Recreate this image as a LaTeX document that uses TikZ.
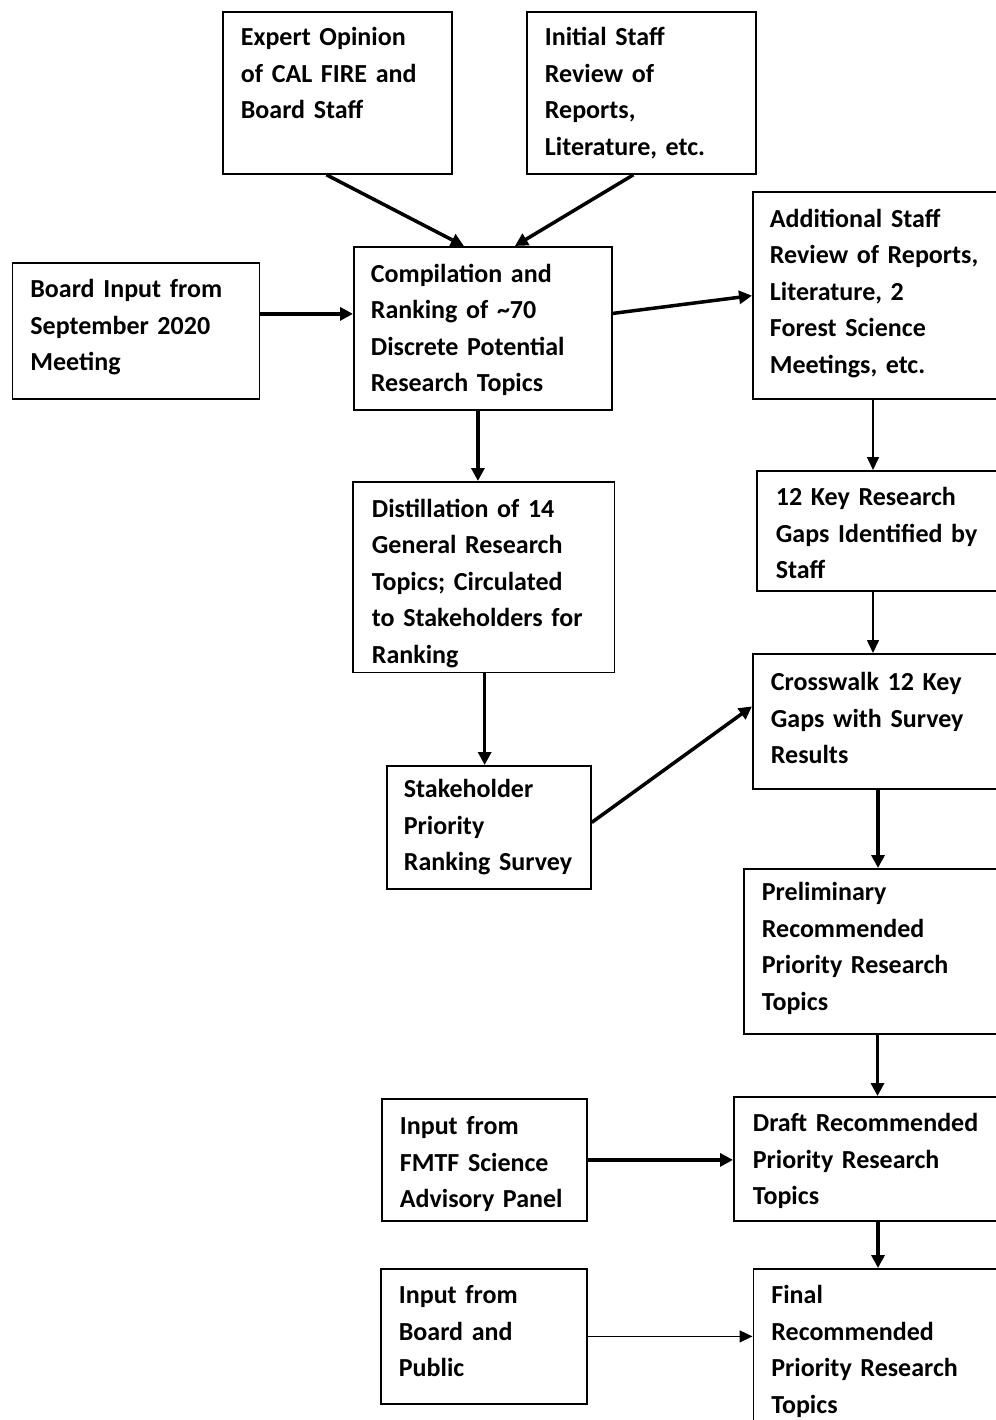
\documentclass[tikz,border=0pt]{standalone}
\usepackage{fontspec}
\setmainfont{Carlito}
\usetikzlibrary{arrows.meta}
\tikzstyle{stepbox} = [rectangle, draw=black, line width=1.8pt, anchor=north west, align=left, inner xsep=18pt, inner ysep=0pt, font=\fontsize{26}{36.5}\selectfont\bfseries]
\tikzstyle{arrow} = [line width=3.5pt, -{Triangle[length=13pt, width=13pt]}]
\tikzstyle{thinarrow} = [line width=1.5pt, -{Triangle[length=13pt, width=12pt]}]

\begin{document}
\begin{tikzpicture}[x=1pt, y=-1pt]
	\useasboundingbox (0,0) rectangle (995,1420);
	\node (expert) [stepbox, text width=193pt, text height=34pt, text depth=128pt] at (222,11) {Expert Opinion\\of CAL FIRE and\\Board Staff};
	\node (initial) [stepbox, text width=193pt, text height=34pt, text depth=128pt] at (526,11) {Initial Staff\\Review of\\Reports,\\Literature, etc.};
	\node (board) [stepbox, text width=211pt, text height=35pt, text depth=101pt] at (11.5,262) {Board Input from\\September 2020\\Meeting};
	\node (compile) [stepbox, inner xsep=17pt, text width=224pt, text height=35.5pt, text depth=127.5pt] at (353,246) {Compilation and\\Ranking of \textasciitilde70\\Discrete Potential\\Research Topics};
	\node (additional) [stepbox, inner xsep=17pt, text width=226pt, text height=35pt, text depth=171.5pt] at (752,191.5) {Additional Staff\\Review of Reports,\\Literature, 2\\Forest Science\\Meetings, etc.};
	\node (distill) [stepbox, inner xsep=19pt, text width=223.5pt, text height=35.5pt, text depth=155pt] at (352,481) {Distillation of 14\\General Research\\Topics; Circulated\\to Stakeholders for\\Ranking};
	\node (gaps) [stepbox, inner xsep=19pt, text width=222pt, text height=35pt, text depth=85pt] at (756,470) {12 Key Research\\Gaps Identified by\\Staff};
	\node (crosswalk) [stepbox, text width=224pt, text height=37pt, text depth=98pt] at (752,653) {Crosswalk 12 Key\\Gaps with Survey\\Results};
	\node (survey) [stepbox, inner xsep=17pt, text width=170pt, text height=32pt, text depth=91pt] at (386,765) {Stakeholder\\Priority\\Ranking~Survey};
	\node (prelim) [stepbox, text width=234pt, text height=32pt, text depth=133pt] at (743,868) {Preliminary\\Recommended\\Priority Research\\Topics};
	\node (panel) [stepbox, text width=169pt, text height=36pt, text depth=86pt] at (381,1098) {Input from\\FMTF Science\\Advisory~Panel};
	\node (draft) [stepbox, inner xsep=19pt, text width=242pt, text height=35pt, text depth=89pt] at (733,1096) {Draft~Recommended\\Priority Research\\Topics};
	\node (public) [stepbox, text width=170pt, text height=35pt, text depth=100pt] at (380,1268) {Input from\\Board and\\Public};
	\node (final) [stepbox, text width=224pt, text height=35pt, text depth=135pt] at (752.5,1268) {Final\\Recommended\\Priority Research\\Topics};
	% inputs into the compilation
	\draw [arrow] ([xshift=-11pt]expert.south) -- ([xshift=-19pt]compile.north);
	\draw [arrow] ([xshift=-8pt]initial.south) -- ([xshift=32pt]compile.north);
	\draw [arrow] ([yshift=17pt]board.east) -- ([yshift=17pt]board.east -| compile.west);
	\draw [arrow] ([yshift=15pt]compile.east) -- (additional.west);
	% left column
	\draw [arrow] ([xshift=-5pt]compile.south) -- ([xshift=-5pt]compile.south |- distill.north);
	\draw [arrow] ([xshift=1pt]distill.south) -- ([xshift=1pt]distill.south |- survey.north);
	\draw [arrow] ([yshift=5pt]survey.east) -- ([yshift=15pt]crosswalk.west);
	% right column
	\draw [thinarrow] ([xshift=121pt]additional.south west) -- ([xshift=121pt]additional.south west |- gaps.north);
	\draw [thinarrow] ([xshift=117pt]gaps.south west) -- ([xshift=117pt]gaps.south west |- crosswalk.north);
	\draw [arrow] ([xshift=126pt]crosswalk.south west) -- ([xshift=126pt]crosswalk.south west |- prelim.north);
	\draw [arrow] ([xshift=134.5pt]prelim.south west) -- ([xshift=134.5pt]prelim.south west |- draft.north);
	\draw [arrow] ([xshift=145pt]draft.south west) -- ([xshift=145pt]draft.south west |- final.north);
	% late inputs
	\draw [arrow] (panel.east) -- (panel.east -| draft.west);
	\draw [thinarrow] (public.east) -- (public.east -| final.west);
\end{tikzpicture}
\end{document}
